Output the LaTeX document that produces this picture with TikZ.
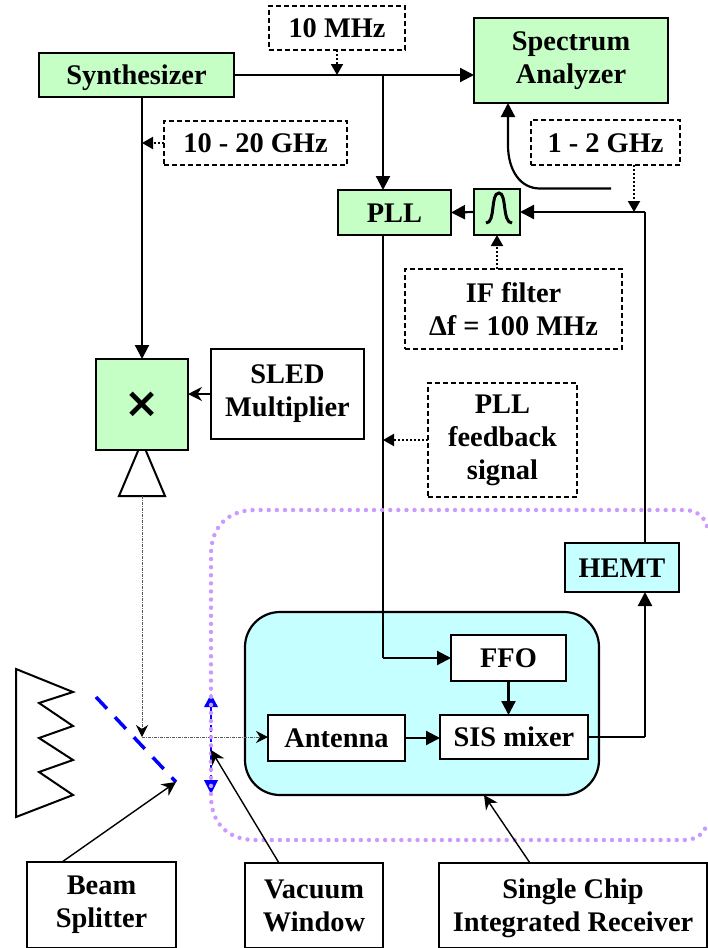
\documentclass[tikz,border=0pt]{standalone}
\usepackage{fontspec}
\setmainfont{Liberation Serif}
\newfontfamily\symbfont{DejaVu Sans}
\usetikzlibrary{arrows.meta}

\definecolor{boxgreen}{HTML}{C6FFC6}
\definecolor{boxcyan}{HTML}{C6FFFF}
\definecolor{ringpurple}{HTML}{CC99FF}

\tikzset{
    box/.style={rectangle,draw,inner sep=0pt,outer sep=0pt,align=center,line width=1.6pt,
        font=\fontsize{28.4}{33}\selectfont\bfseries},
    oneline/.style={text height=19pt,text depth=0pt},
    greenbox/.style={box,fill=boxgreen,line width=2pt},
    cyanbox/.style={box,fill=boxcyan,line width=2pt},
    notebox/.style={box,dash pattern=on 5pt off 3pt},
    feed/.style={draw,line width=2.2pt,-{Triangle[length=14pt,width=14pt]}},
    pointer/.style={draw,line width=1.4pt,-{Stealth[length=14pt,width=14pt]}},
    tap/.style={draw,line width=2pt,dash pattern=on 2pt off 2pt,-{Triangle[length=11pt,width=12pt]}},
    beam/.style={draw,gray!70!black,line width=1pt,densely dashdotted,-{Stealth[length=12pt,width=12pt,black]}},
}

\begin{document}
\begin{tikzpicture}[x=1pt,y=-1pt]
    \useasboundingbox (0,0) rectangle (707,948);

    \node [cyanbox,rounded corners=35pt,line width=2.2pt,minimum width=354pt,minimum height=183pt] (chip) at (422,703.5) {};

    \node [greenbox,oneline,minimum width=195pt,minimum height=44pt] (synth) at (136.5,75) {Synthesizer};
    \node [greenbox,minimum width=194pt,minimum height=85pt] (spectrum) at (571,60.5) {Spectrum\\Analyzer};
    \node [notebox,oneline,minimum width=136pt,minimum height=44pt] (ref) at (337,28) {10 MHz};
    \node [notebox,oneline,minimum width=183pt,minimum height=44pt] (rf) at (255.5,143) {10 - 20 GHz};
    \node [notebox,oneline,minimum width=149pt,minimum height=45pt] (if) at (605.5,142.5) {1 - 2 GHz};
    \node [greenbox,oneline,minimum width=113pt,minimum height=45pt] (pll) at (394.5,212.5) {PLL};
    \node [greenbox,line width=2.6pt,minimum width=46pt,minimum height=46pt] (filter) at (497,212) {};
    \node [notebox,minimum width=217pt,minimum height=80pt] (iffilter) at (513.5,309) {IF filter\\Δf = 100 MHz};
    \node [greenbox,line width=2.6pt,minimum width=92pt,minimum height=91pt] (mult) at (142,404.5) {\raisebox{-2pt}{\fontsize{42}{42}\selectfont\symbfont ×}};
    \node [box,minimum width=153pt,minimum height=90pt] (sled) at (287.5,394) {SLED\\Multiplier};
    \node [notebox,minimum width=149pt,minimum height=114pt] (feedback) at (502.5,440) {PLL\\feedback\\signal};
    \node [cyanbox,oneline,minimum width=114pt,minimum height=49pt] (hemt) at (622,567.5) {HEMT};
    \node [box,oneline,fill=white,minimum width=115pt,minimum height=46pt] (ffo) at (508.5,658) {FFO};
    \node [box,oneline,fill=white,minimum width=148pt,minimum height=44pt] (sis) at (514,737) {SIS mixer};
    \node [box,oneline,fill=white,minimum width=137pt,minimum height=46pt] (antenna) at (336.5,738) {Antenna};
    \node [box,minimum width=149pt,minimum height=86pt] (splitter) at (101.5,905) {Beam\\Splitter};
    \node [box,minimum width=138pt,minimum height=85pt] (window) at (314,905.5) {Vacuum\\Window};
    \node [box,minimum width=268pt,minimum height=85pt] (receiver) at (573,905.5) {Single Chip\\\smash{Integrated Receiver}};

    \coordinate (tapref) at (337,75);
    \coordinate (tappll) at (383,75);
    \coordinate (taprf) at (142,143);
    \coordinate (corner) at (645,212);
    \coordinate (tapif) at (634,212);
    \coordinate (tapfb) at (383,440);
    \coordinate (ffoin) at (383,658);
    \coordinate (sisout) at (645,737);
    \coordinate (cross) at (142,737);
    \coordinate (specin) at (508,103);
    \coordinate (hornout) at (142,496);
    \coordinate (bsend) at (176,782);
    \coordinate (vwend) at (211,750);
    \coordinate (chipend) at (484,795);
    \coordinate (bsstart) at (62,862);
    \coordinate (vwstart) at (279,863);
    \coordinate (chipstart) at (530,863);
    \coordinate (pllout) at (383,235);

    \path[feed] (synth.east) -- (synth.east -| spectrum.west);
    \path[feed] (tappll) -- (tappll |- pll.north);
    \path[feed] (synth.south -| mult.north) -- (mult.north);
    \path[feed] (corner) -- (filter.east);
    \path[feed] (filter.west) -- (pll.east);
    \draw[line width=2.2pt] (hemt.north -| corner) -- (corner);
    \path[feed] (611,188.5) -- (540,188.5) .. controls (520,188.5) and (508,170) .. (508,145) -- (specin);
    \draw[line width=2.2pt] (pllout) -- (ffoin);
    \path[feed] (ffoin) -- (ffo.west);
    \path[feed] (ffo.south) -- (ffo.south |- sis.north);
    \path[feed] (antenna.east) -- (antenna.east -| sis.west);
    \draw[line width=2.2pt] (sis.east) -- (sisout);
    \path[feed] (sisout) -- (hemt.south -| sisout);

    \path[tap] (ref.south) -- (tapref);
    \path[tap] (rf.west) -- (taprf);
    \path[tap] (if.south -| tapif) -- (tapif);
    \path[tap] (iffilter.north -| filter.south) -- (filter.south);
    \path[tap] (feedback.west) -- (tapfb);
    \path[pointer] (sled.west) -- (sled.west -| mult.east);

    \draw[line width=2pt,line join=miter] (138,451) -- (119,496) -- (165,496) -- (146,451);
    \draw[line width=2pt,line join=miter] (16,669) -- (73,692) -- (39,703) -- (73,726) -- (39,738) -- (73,760) -- (39,772) -- (73,795) -- (16,817) -- cycle;
    \draw[line width=3pt] (486,223) .. controls (496,223) and (490,193) .. (499,193) .. controls (507,193) and (502,223) .. (512,223);

    \path[beam] (hornout) -- (cross);
    \path[beam] (cross) -- (antenna.west |- cross);

    \draw[blue,line width=3.5pt,dash pattern=on 16pt off 11.6pt] (96,697) -- (bsend);
    \draw[blue,line width=2.6pt,dash pattern=on 7pt off 3pt] (211,705) -- (211,782);
    \fill[blue] (211,694) -- (218,707) -- (204,707) -- cycle;
    \fill[blue] (211,794) -- (218,780) -- (204,780) -- cycle;

    \draw[ringpurple,line width=4.4pt,line cap=round,dash pattern=on 0pt off 8.1pt]
        (707,526) .. controls (704,516) and (696,510) .. (684,510) -- (255,510)
        .. controls (228,510) and (211,527) .. (211,554) -- (211,796)
        .. controls (211,823) and (228,840) .. (255,840) -- (684,840)
        .. controls (696,840) and (704,834) .. (707,824);

    \path[pointer] (bsstart) -- (bsend);
    \path[pointer] (vwstart) -- (vwend);
    \path[pointer] (chipstart) -- (chipend);
\end{tikzpicture}
\end{document}
